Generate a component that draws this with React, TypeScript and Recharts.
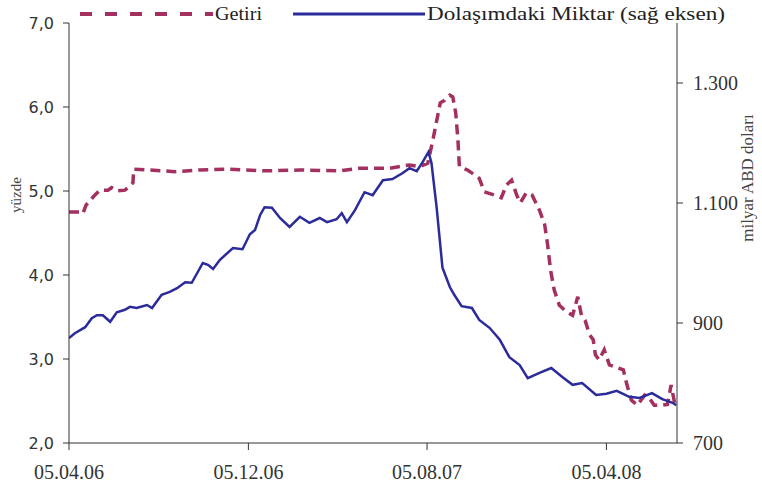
import React from 'react';
import { LineChart, Line, XAxis, YAxis } from 'recharts';

const startDate = '2006-04-05';
const endDate = '2008-07-10';

const getiriDates = [
  '2006-04-05', '2006-04-20', '2006-04-24', '2006-04-28', '2006-05-04', '2006-05-10', '2006-05-17',
  '2006-05-28', '2006-06-02', '2006-06-09', '2006-06-20', '2006-06-27', '2006-07-01', '2006-07-02',
  '2006-07-24', '2006-08-27', '2006-09-30', '2006-11-10', '2006-12-27', '2007-02-13', '2007-04-08',
  '2007-05-05', '2007-06-15', '2007-07-12', '2007-07-26', '2007-08-06', '2007-08-13', '2007-08-23',
  '2007-08-29', '2007-09-05', '2007-09-09', '2007-09-13', '2007-09-16', '2007-09-18', '2007-09-29',
  '2007-10-09', '2007-10-15', '2007-10-22', '2007-11-05', '2007-11-14', '2007-11-21', '2007-11-28',
  '2007-12-05', '2007-12-10', '2007-12-18', '2007-12-26', '2008-01-05', '2008-01-12', '2008-01-16',
  '2008-01-20', '2008-01-25', '2008-02-01', '2008-02-11', '2008-02-19', '2008-02-26', '2008-03-02',
  '2008-03-07', '2008-03-13', '2008-03-18', '2008-03-21', '2008-03-26', '2008-04-02', '2008-04-09',
  '2008-04-19', '2008-04-28', '2008-05-03', '2008-05-09', '2008-05-17', '2008-05-27', '2008-06-02',
  '2008-06-09', '2008-06-20', '2008-06-27', '2008-07-02', '2008-07-08',
];
const getiriValues = [
  4.75, 4.75, 4.73, 4.83, 4.89, 4.95, 5.01,
  5.01, 5.04, 5.0, 5.01, 5.06, 5.1, 5.26,
  5.25, 5.23, 5.25, 5.26, 5.24, 5.25, 5.24,
  5.27, 5.27, 5.31, 5.29, 5.33, 5.61, 6.05,
  6.08, 6.14, 6.12, 5.93, 5.61, 5.29, 5.25,
  5.19, 5.15, 4.99, 4.95, 4.92, 5.07, 5.13,
  4.95, 4.86, 4.98, 4.95, 4.77, 4.6, 4.36,
  4.06, 3.82, 3.64, 3.56, 3.52, 3.74, 3.52,
  3.46, 3.29, 3.23, 3.05, 2.99, 3.11, 2.93,
  2.9, 2.87, 2.69, 2.51, 2.45, 2.57, 2.54,
  2.45, 2.45, 2.46, 2.69, 2.42,
];

const miktarDates = [
  '2006-04-05', '2006-04-13', '2006-04-27', '2006-05-06', '2006-05-13', '2006-05-21', '2006-05-31',
  '2006-06-09', '2006-06-20', '2006-06-27', '2006-07-06', '2006-07-20', '2006-07-27', '2006-08-09',
  '2006-08-20', '2006-08-30', '2006-09-10', '2006-09-19', '2006-10-04', '2006-10-11', '2006-10-18',
  '2006-10-27', '2006-11-14', '2006-11-27', '2006-12-07', '2006-12-14', '2006-12-21', '2006-12-27',
  '2007-01-06', '2007-01-17', '2007-01-30', '2007-02-13', '2007-02-26', '2007-03-12', '2007-03-22',
  '2007-04-04', '2007-04-11', '2007-04-18', '2007-04-29', '2007-05-12', '2007-05-23', '2007-06-06',
  '2007-06-19', '2007-07-03', '2007-07-12', '2007-07-22', '2007-07-30', '2007-08-07', '2007-08-11',
  '2007-08-18', '2007-08-26', '2007-09-05', '2007-09-11', '2007-09-21', '2007-10-05', '2007-10-15',
  '2007-10-29', '2007-11-12', '2007-11-25', '2007-12-09', '2007-12-20', '2008-01-05', '2008-01-21',
  '2008-02-05', '2008-02-19', '2008-03-03', '2008-03-22', '2008-04-05', '2008-04-19', '2008-05-06',
  '2008-05-20', '2008-06-06', '2008-06-20', '2008-07-04', '2008-07-09',
];
const miktarValues = [
  875, 883, 893, 908, 913, 913, 902,
  918, 922, 927, 925, 930, 925, 947,
  952, 958, 968, 967, 1000, 997, 990,
  1005, 1025, 1023, 1048, 1055, 1080, 1093,
  1092, 1075, 1060, 1077, 1067, 1075, 1068,
  1073, 1083, 1068, 1088, 1118, 1113, 1138,
  1140, 1150, 1158, 1153, 1168, 1185, 1167,
  1093, 992, 960, 947, 928, 925, 905,
  892, 872, 843, 830, 808, 817, 825,
  810, 797, 800, 780, 782, 787, 777,
  775, 783, 773, 767, 763,
];

const xTickDates = ['2006-04-05', '2006-12-05', '2007-08-05', '2008-04-05'];
const xTickLabels = ['05.04.06', '05.12.06', '05.08.07', '05.04.08'];
const leftTicks = [2, 3, 4, 5, 6, 7];
const rightTicks = [700, 900, 1100, 1300];

const seriesNames = ['Getiri', 'Dolaşımdaki Miktar (sağ eksen)'];
const leftTitle = 'yüzde';
const rightTitle = 'milyar ABD doları';

const RED = '#a3305f';
const BLUE = '#2b2b9b';
const AXIS = '#333';

const dayOf = (s: string) => Math.round((Date.parse(s) - Date.parse(startDate)) / 86400000);

const buildData = () => {
  const map = new Map<number, any>();
  getiriDates.forEach((d, i) => {
    const k = dayOf(d);
    const row = map.get(k) || { day: k };
    row.getiri = getiriValues[i];
    map.set(k, row);
  });
  miktarDates.forEach((d, i) => {
    const k = dayOf(d);
    const row = map.get(k) || { day: k };
    row.miktar = miktarValues[i];
    map.set(k, row);
  });
  return Array.from(map.values()).sort((a, b) => a.day - b.day);
};

const data = buildData();
const xTicks = xTickDates.map(dayOf);
const xLabel = (v: number) => {
  const i = xTicks.indexOf(v);
  return i >= 0 ? xTickLabels[i] : '';
};
const leftFmt = (v: number) => v.toFixed(1).replace('.', ',');
const rightFmt = (v: number) => (v >= 1000 ? `${Math.floor(v / 1000)}.${String(v % 1000).padStart(3, '0')}` : String(v));

export default function App() {
  return (
    <div style={{ position: 'absolute', left: 0, top: 0, width: 762, height: 494, background: '#fff' }}>
      <LineChart width={762} height={494} data={data} margin={{ top: 23, right: 0, bottom: 0, left: 0 }}>
        <XAxis
          dataKey="day"
          type="number"
          domain={[0, dayOf(endDate)]}
          ticks={xTicks}
          tickFormatter={xLabel}
          height={51}
          tickSize={7}
          tickMargin={15}
          stroke={AXIS}
          tick={{ fontSize: 20, fontFamily: 'Liberation Serif', fill: '#333' }}
          allowDataOverflow
        />
        <YAxis
          yAxisId="left"
          orientation="left"
          domain={[2, 7]}
          ticks={leftTicks}
          tickFormatter={leftFmt}
          width={69}
          tickSize={6}
          tickMargin={9}
          stroke={AXIS}
          tick={{ fontSize: 16, fontFamily: 'DejaVu Sans', fill: '#333' }}
          allowDataOverflow
        />
        <YAxis
          yAxisId="right"
          orientation="right"
          domain={[700, 1400]}
          ticks={rightTicks}
          tickFormatter={rightFmt}
          width={85}
          tickSize={6}
          tickMargin={10}
          stroke={AXIS}
          tick={{ fontSize: 20, fontFamily: 'Liberation Serif', fill: '#333' }}
          allowDataOverflow
        />
        <Line
          yAxisId="left"
          dataKey="getiri"
          name={seriesNames[0]}
          type="linear"
          stroke={RED}
          strokeWidth={3.5}
          strokeDasharray="10 6"
          dot={false}
          connectNulls
          isAnimationActive={false}
        />
        <Line
          yAxisId="right"
          dataKey="miktar"
          name={seriesNames[1]}
          type="linear"
          stroke={BLUE}
          strokeWidth={2.5}
          dot={false}
          connectNulls
          isAnimationActive={false}
        />
      </LineChart>
      <svg
        width={762}
        height={494}
        style={{ position: 'absolute', left: 0, top: 0, pointerEvents: 'none' }}
      >
        <line x1={80} y1={14} x2={213} y2={14} stroke={RED} strokeWidth={4} strokeDasharray="12 13" />
        <text x={215} y={20} fontFamily="Liberation Serif" fontSize={19} fill="#222" textLength={47} lengthAdjust="spacingAndGlyphs">
          {seriesNames[0]}
        </text>
        <line x1={293} y1={14} x2={425} y2={14} stroke={BLUE} strokeWidth={3} />
        <text x={427} y={20} fontFamily="Liberation Serif" fontSize={19} fill="#222" textLength={298} lengthAdjust="spacingAndGlyphs">
          {seriesNames[1]}
        </text>
        <text
          x={16}
          y={195}
          transform="rotate(-90 16 195)"
          textAnchor="middle"
          dominantBaseline="central"
          fontFamily="Liberation Serif"
          fontSize={15}
          fill="#444"
        >
          {leftTitle}
        </text>
        <text
          x={747}
          y={178}
          transform="rotate(-90 747 178)"
          textAnchor="middle"
          dominantBaseline="central"
          fontFamily="Liberation Serif"
          fontSize={17}
          fill="#444"
        >
          {rightTitle}
        </text>
      </svg>
    </div>
  );
}
